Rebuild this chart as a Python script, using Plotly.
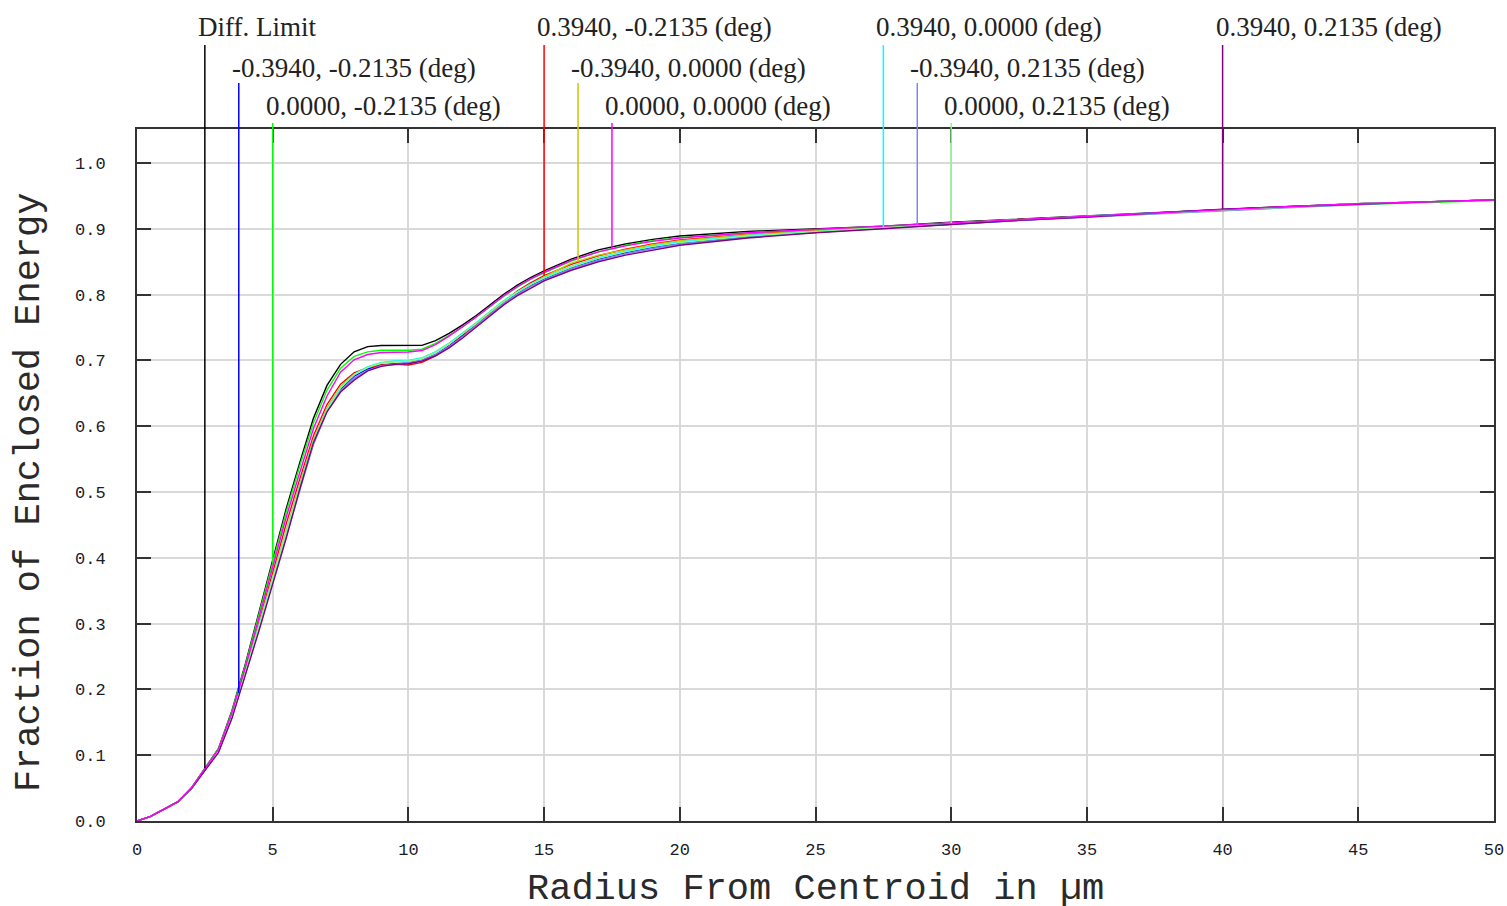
import numpy as np
import plotly.graph_objects as go

# Radius from centroid (µm)
radius = [0, 0.5, 1, 1.5, 2, 2.5, 3, 3.5, 4, 4.5, 5, 5.5, 6, 6.5, 7, 7.5, 8, 8.5, 9, 9.5,
          10, 10.5, 11, 11.5, 12, 12.5, 13, 13.5, 14, 14.5, 15, 16, 17, 18, 19, 20,
          22.5, 25, 27.5, 30, 32.5, 35, 37.5, 40, 42.5, 45, 47.5, 50]

diff_limit = [0, 0.007, 0.018, 0.029, 0.050, 0.080, 0.110, 0.168, 0.240, 0.318, 0.398, 0.475, 0.545, 0.612, 0.662, 0.694, 0.713, 0.721, 0.7226, 0.7226,
              0.7226, 0.7228, 0.730, 0.741, 0.754, 0.768, 0.784, 0.800, 0.814, 0.826, 0.836, 0.854, 0.868, 0.877, 0.884, 0.889,
              0.896, 0.900, 0.904, 0.910, 0.915, 0.920, 0.925, 0.930, 0.934, 0.938, 0.941, 0.944]
f_m394_m2135 = [0, 0.007, 0.018, 0.029, 0.049, 0.078, 0.106, 0.160, 0.228, 0.298, 0.368, 0.440, 0.508, 0.574, 0.624, 0.656, 0.676, 0.687, 0.693, 0.695,
                0.696, 0.700, 0.709, 0.722, 0.738, 0.755, 0.772, 0.788, 0.802, 0.814, 0.824, 0.841, 0.854, 0.864, 0.872, 0.878,
                0.888, 0.895, 0.901, 0.907, 0.913, 0.919, 0.924, 0.929, 0.934, 0.938, 0.941, 0.944]
f_0_m2135 = [0, 0.007, 0.018, 0.029, 0.050, 0.080, 0.110, 0.167, 0.238, 0.315, 0.394, 0.470, 0.540, 0.605, 0.655, 0.688, 0.706, 0.713, 0.7155, 0.7155,
             0.7155, 0.717, 0.726, 0.738, 0.751, 0.766, 0.782, 0.797, 0.811, 0.823, 0.833, 0.851, 0.865, 0.875, 0.882, 0.887,
             0.894, 0.899, 0.903, 0.909, 0.914, 0.919, 0.924, 0.929, 0.933, 0.937, 0.940, 0.943]
f_p394_m2135 = [0, 0.007, 0.018, 0.029, 0.049, 0.078, 0.107, 0.162, 0.230, 0.303, 0.378, 0.452, 0.520, 0.585, 0.633, 0.664, 0.681, 0.689, 0.693, 0.694,
                0.693, 0.697, 0.707, 0.721, 0.737, 0.754, 0.772, 0.789, 0.805, 0.818, 0.829, 0.846, 0.859, 0.869, 0.877, 0.883,
                0.892, 0.897, 0.902, 0.908, 0.914, 0.919, 0.924, 0.929, 0.934, 0.938, 0.941, 0.944]
f_m394_0 = [0, 0.007, 0.018, 0.029, 0.049, 0.078, 0.106, 0.160, 0.228, 0.300, 0.372, 0.445, 0.513, 0.580, 0.628, 0.660, 0.679, 0.690, 0.696, 0.698,
            0.699, 0.703, 0.713, 0.726, 0.741, 0.757, 0.774, 0.790, 0.804, 0.816, 0.827, 0.848, 0.860, 0.868, 0.876, 0.882,
            0.891, 0.897, 0.902, 0.908, 0.914, 0.919, 0.924, 0.929, 0.934, 0.938, 0.941, 0.944]
f_0_0 = [0, 0.007, 0.018, 0.029, 0.050, 0.079, 0.109, 0.165, 0.235, 0.310, 0.388, 0.462, 0.530, 0.596, 0.646, 0.682, 0.701, 0.709, 0.712, 0.7125,
         0.7128, 0.715, 0.724, 0.737, 0.751, 0.766, 0.782, 0.798, 0.812, 0.824, 0.834, 0.852, 0.865, 0.874, 0.881, 0.886,
         0.894, 0.899, 0.904, 0.910, 0.915, 0.920, 0.925, 0.930, 0.934, 0.938, 0.941, 0.944]
f_p394_0 = [0, 0.007, 0.018, 0.029, 0.049, 0.078, 0.106, 0.160, 0.227, 0.298, 0.370, 0.442, 0.510, 0.577, 0.626, 0.659, 0.679, 0.690, 0.697, 0.699,
            0.700, 0.704, 0.713, 0.726, 0.741, 0.757, 0.774, 0.790, 0.804, 0.816, 0.826, 0.843, 0.856, 0.866, 0.874, 0.880,
            0.890, 0.896, 0.902, 0.908, 0.914, 0.919, 0.924, 0.929, 0.934, 0.938, 0.941, 0.944]
f_m394_p2135 = [0, 0.007, 0.018, 0.029, 0.049, 0.078, 0.105, 0.158, 0.224, 0.294, 0.364, 0.435, 0.505, 0.572, 0.622, 0.654, 0.673, 0.685, 0.692, 0.694,
                0.696, 0.700, 0.709, 0.721, 0.736, 0.753, 0.770, 0.786, 0.800, 0.812, 0.822, 0.839, 0.852, 0.862, 0.870, 0.877,
                0.887, 0.894, 0.902, 0.909, 0.913, 0.918, 0.923, 0.928, 0.933, 0.937, 0.941, 0.944]
f_0_p2135 = [0, 0.007, 0.018, 0.029, 0.049, 0.078, 0.106, 0.159, 0.226, 0.296, 0.368, 0.440, 0.509, 0.576, 0.625, 0.658, 0.678, 0.689, 0.696, 0.698,
             0.699, 0.703, 0.712, 0.725, 0.740, 0.756, 0.773, 0.789, 0.803, 0.815, 0.825, 0.842, 0.855, 0.865, 0.873, 0.879,
             0.889, 0.895, 0.902, 0.909, 0.914, 0.919, 0.924, 0.929, 0.934, 0.938, 0.941, 0.944]
f_p394_p2135 = [0, 0.007, 0.018, 0.029, 0.049, 0.077, 0.104, 0.156, 0.222, 0.290, 0.360, 0.430, 0.505, 0.575, 0.622, 0.652, 0.670, 0.684, 0.691, 0.694,
                0.695, 0.699, 0.707, 0.719, 0.734, 0.751, 0.768, 0.784, 0.798, 0.810, 0.821, 0.837, 0.850, 0.860, 0.868, 0.875,
                0.886, 0.894, 0.900, 0.907, 0.913, 0.918, 0.924, 0.930, 0.934, 0.938, 0.941, 0.944]

series_names = ["Diff. Limit", "-0.3940, -0.2135 (deg)", "0.0000, -0.2135 (deg)",
                "0.3940, -0.2135 (deg)", "-0.3940, 0.0000 (deg)", "0.0000, 0.0000 (deg)",
                "0.3940, 0.0000 (deg)", "-0.3940, 0.2135 (deg)", "0.0000, 0.2135 (deg)",
                "0.3940, 0.2135 (deg)"]
series_values = [diff_limit, f_m394_m2135, f_0_m2135, f_p394_m2135, f_m394_0, f_0_0,
                 f_p394_0, f_m394_p2135, f_0_p2135, f_p394_p2135]
series_colors = ["#000000", "#0000ff", "#00ff00", "#ff0000", "#c8c800", "#ff00ff",
                 "#00ffff", "#8080ff", "#80ff80", "#800080"]
# radius at which each label's leader line touches its curve
label_r = [2.5, 3.75, 5.0, 15.0, 16.25, 17.5, 27.5, 28.75, 30.0, 40.0]

x_ticks = [0, 5, 10, 15, 20, 25, 30, 35, 40, 45, 50]
y_ticks = [0.0, 0.1, 0.2, 0.3, 0.4, 0.5, 0.6, 0.7, 0.8, 0.9, 1.0]

Y_MAX = 1.0517
PLOT_H = 692.0
row_text_shift = [102, 61, 23]      # px above the plot top (label centres)
row_line_top = [84, 46, 6]          # px above the plot top (leader line tops)

fig = go.Figure()
order = [0, 1, 2, 3, 4, 6, 7, 8, 9, 5]
for i in order:
    fig.add_trace(go.Scatter(x=radius, y=series_values[i], mode="lines",
                             line=dict(color=series_colors[i], width=1.4),
                             name=series_names[i], showlegend=False))

shapes = []
annotations = []
label_font = dict(family="Liberation Serif, Times New Roman, serif", size=27, color="#222222")
for i, (name, r) in enumerate(zip(series_names, label_r)):
    row = i % 3
    val = float(np.interp(r, radius, series_values[i]))
    shapes.append(dict(type="line", xref="x", yref="y", x0=r, x1=r, y0=val, y1=Y_MAX,
                       line=dict(color=series_colors[i], width=1.5), layer="above"))
    shapes.append(dict(type="line", xref="x", yref="paper", x0=r, x1=r, y0=1.0,
                       y1=1.0 + row_line_top[row] / PLOT_H,
                       line=dict(color=series_colors[i], width=1.5), layer="above"))
    annotations.append(dict(text=name, xref="x", yref="paper", x=r, y=1.0,
                            xanchor="left", yanchor="middle", xshift=-7,
                            yshift=row_text_shift[row], showarrow=False,
                            font=label_font, borderpad=0, borderwidth=0))

title_font = dict(family="Liberation Mono, Courier New, monospace", size=37, color="#2a2a2a")
annotations.append(dict(text="Fraction of Enclosed Energy", xref="paper", yref="paper",
                        x=0, y=0.5, xanchor="center", yanchor="middle", xshift=-108,
                        yshift=-17, textangle=-90, showarrow=False, font=title_font))
annotations.append(dict(text="Radius From Centroid in µm", xref="paper", yref="paper",
                        x=0.5, y=0, xanchor="center", yanchor="bottom", yshift=-90,
                        showarrow=False, font=title_font, borderpad=0))

tick_font = dict(family="Liberation Mono, Courier New, monospace", size=17, color="#1a1a2a")
axis_common = dict(showline=True, linecolor="#333333", linewidth=2, mirror="ticks",
                   ticks="inside", ticklen=14, tickwidth=2, tickcolor="#333333",
                   showgrid=True, gridcolor="#d9d9d9", gridwidth=1.5, zeroline=False,
                   tickfont=tick_font, automargin=False)

fig.update_layout(
    width=1507, height=906, autosize=False,
    margin=dict(l=137, r=13, t=129, b=85, autoexpand=False),
    paper_bgcolor="white", plot_bgcolor="white",
    xaxis=dict(range=[0, 50], tickvals=x_ticks, ticktext=[str(v) for v in x_ticks],
               ticklabelstandoff=12, **axis_common),
    yaxis=dict(range=[0, Y_MAX], tickvals=y_ticks, ticktext=[f"{v:.1f}" for v in y_ticks],
               ticklabelstandoff=26, **axis_common),
    shapes=shapes, annotations=annotations,
)

# remove the default 8px page margin so the figure fills the window exactly
fig.write_html("out.html",
               config={"displayModeBar": False, "responsive": False},
               post_script="document.body.style.margin='0';document.body.style.padding='0';")
